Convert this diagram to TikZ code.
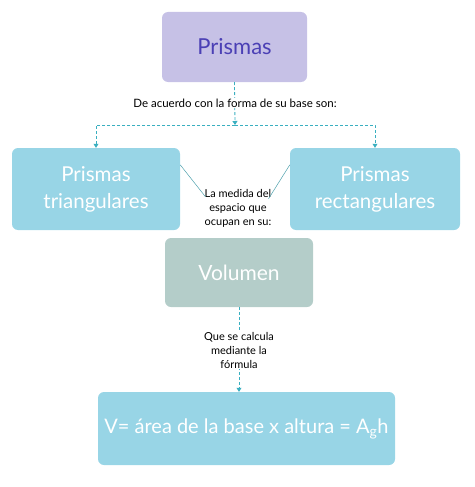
\documentclass[tikz,border=0pt]{standalone}
\usepackage{fontspec}
\setmainfont{Lato}
\usetikzlibrary{arrows.meta}
\definecolor{lila}{HTML}{C6C1E6}
\definecolor{lilatext}{HTML}{4B40B5}
\definecolor{celeste}{HTML}{98D5E6}
\definecolor{grisverde}{HTML}{B4CDC9}
\definecolor{guia}{HTML}{3AAFC0}
\begin{document}
\begin{tikzpicture}[
    x=1pt,y=-1pt,
    >={Triangle[width=5pt,length=4pt]},
    box/.style={rounded corners=6pt,align=center,inner sep=0pt,text=white},
    lbl/.style={font=\fontsize{11.5}{14}\selectfont,align=center,fill=white,inner sep=1pt},
    guide/.style={guia,densely dashed,line width=.8pt},
    tie/.style={guia!70!gray,line width=.5pt}
]
\useasboundingbox (0,0) rectangle (474,487);
\node[box,fill=lila,text=lilatext,minimum width=145,minimum height=70,font=\fontsize{22}{26}\selectfont] (prismas) at (234.5,47) {Prismas};
\node[box,fill=celeste,minimum width=168,minimum height=82,font=\fontsize{20.5}{27}\selectfont] (tri) at (96,189) {Prismas\\triangulares};
\node[box,fill=celeste,minimum width=170,minimum height=82,font=\fontsize{20.5}{27}\selectfont] (rect) at (375,189) {Prismas\\rectangulares};
\node[box,fill=grisverde,minimum width=148,minimum height=69,font=\fontsize{21}{25}\selectfont] (vol) at (239,272.5) {Volumen};
\node[box,fill=celeste,minimum width=297,minimum height=73,font=\fontsize{20}{24}\selectfont] (formula) at (246.5,428.5) {V= área de la base x altura = A\textsubscript{g}h};
\coordinate (junc) at (235,125);
% desde Prismas hacia los dos tipos
\draw[guide,->] (prismas.south) -- (junc);
\draw[guide,->] (junc) -| (tri.north);
\draw[guide,->] (junc) -| (rect.north);
\node[lbl] (forma) at (235,103) {De acuerdo con la forma de su base son:};
% medida del espacio
\node[lbl,font=\fontsize{11}{14}\selectfont] (medida) at (238,208) {La medida del\\espacio que\\ocupan en su:};
\draw[tie] ([yshift=-17]tri.north east) -- ([xshift=2,yshift=-9]medida.north west);
\draw[tie] ([yshift=-17]rect.north west) -- ([xshift=-4,yshift=-11]medida.north east);
% de Volumen a la formula
\draw[guide,->] (vol.south) -- (formula.north -| vol.south);
\node[lbl,font=\fontsize{11}{14}\selectfont] (calcula) at (239,350) {Que se calcula\\mediante la\\fórmula};
\end{tikzpicture}
\end{document}
